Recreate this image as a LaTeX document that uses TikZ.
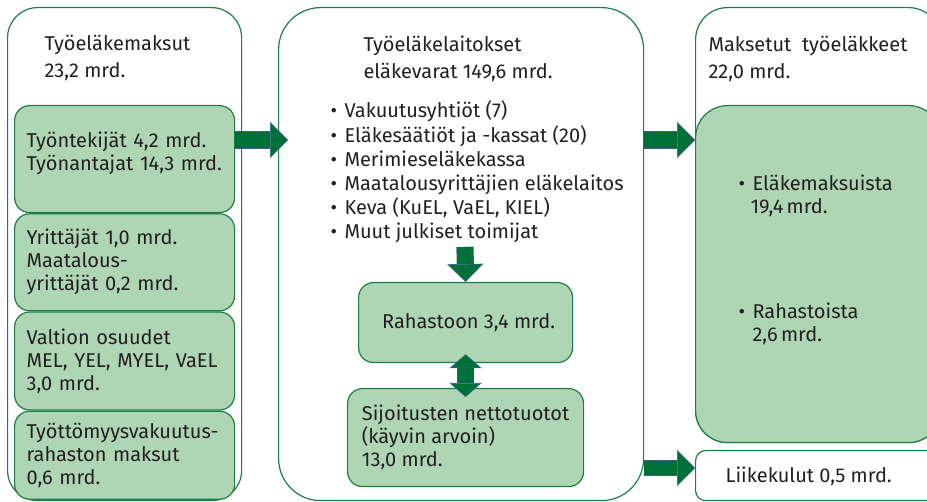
\documentclass[tikz,border=0pt]{standalone}
\usepackage{fontspec}
\setmainfont{Fira Sans}
\usetikzlibrary{positioning, arrows.meta}
\definecolor{boxline}{RGB}{30,125,70}
\definecolor{boxfill}{RGB}{174,214,180}
\definecolor{arrowfill}{RGB}{0,112,58}
\definecolor{arrowedge}{RGB}{65,95,140}
\definecolor{txt}{RGB}{35,31,32}
\newcommand\blt{\makebox[14pt][l]{•}}

\begin{document}
\begin{tikzpicture}[x=1pt, y=-1pt, font=\fontsize{20}{23}\selectfont, text=txt,
	outerbox/.style={draw=boxline, line width=1.2pt, rounded corners=#1, anchor=north west, inner sep=0pt},
	greenbox/.style={outerbox=#1, fill=boxfill, align=left, inner xsep=12pt},
	blockarrow/.style={draw=arrowedge, line width=0.6pt, double=arrowfill, double distance=#1},
	tip/.style={-{Triangle[length=18pt, width=36pt, fill=arrowfill, color=arrowedge, line width=0.6pt]}}]
	\useasboundingbox (0,0) rectangle (927,502);
	\clip (0,0) rectangle (927,502);
	% outer boxes
	\node at (7,7) [outerbox=30pt, minimum width=234pt, minimum height=493pt] (maksut) {};
	\node at (278,7) [outerbox=42pt, minimum width=365pt, minimum height=493pt] (laitokset) {};
	\node at (695,7) [outerbox=32pt, minimum width=245pt, minimum height=435pt] (maksetut) {};
	\node at (41,58) [anchor=west, align=left] (maksut-t) {Työeläkemaksut\\[4pt]23,2 mrd.};
	\node at (360,59) [anchor=west, align=left] (laitokset-t) {Työeläkelaitokset\\[4pt]eläkevarat 149,6 mrd.};
	\node at (705,59) [anchor=west, align=left] (maksetut-t) {Maksetut\ \ työeläkkeet\\[4pt]22,0 mrd.};
	% contributions
	\node at (14,105) [greenbox=15pt, text width=196pt, minimum height=107pt] (tyo) {Työntekijät 4,2 mrd.\\Työnantajat 14,3 mrd.\\[-8pt]\mbox{}};
	\node [greenbox=15pt, below=0pt of tyo, text width=196pt, minimum height=97pt] (yrit) {Yrittäjät 1,0 mrd.\\Maatalous-\\yrittäjät 0,2 mrd.};
	\node [greenbox=15pt, below=0pt of yrit, text width=196pt, minimum height=98pt] (valtio) {Valtion osuudet\\MEL, YEL, MYEL, VaEL\\3,0 mrd.};
	\node [greenbox=15pt, below=0pt of valtio, text width=196pt, minimum height=88pt] (tvr) {Työttömyysvakuutus-\\rahaston maksut\\0,6 mrd.};
	% institutions
	\node at (327,172) [anchor=west, align=left, font=\fontsize{20}{24.2}\selectfont] (lista) {\blt Vakuutusyhtiöt (7)\\\blt Eläkesäätiöt ja -kassat (20)\\\blt Merimieseläkekassa\\\blt Maatalousyrittäjien eläkelaitos\\\blt Keva (KuEL, VaEL, KIEL)\\\blt Muut julkiset toimijat};
	\node at (358,282) [greenbox=15pt, minimum width=214pt, minimum height=80pt] (rahasto) {\hspace*{6pt}Rahastoon 3,4 mrd.};
	\node at (347,388) [greenbox=15pt, minimum width=236pt, minimum height=98pt] (sijoitus) {Sijoitusten nettotuotot\\(käyvin arvoin)\\13,0 mrd.};
	% pensions paid
	\node at (695,105) [greenbox=32pt, minimum width=245pt, minimum height=337pt] (elake) {};
	\node at (735,196) [anchor=west, align=left] (elake-a) {\blt Eläkemaksuista\\\hspace*{12pt}19,4\,mrd.};
	\node at (735,324) [anchor=west, align=left] (elake-b) {\blt Rahastoista\\\hspace*{14pt}2,6\,mrd.};
	\node at (695,450) [outerbox=10pt, minimum width=245pt, minimum height=50pt] (kulut) {};
	\node at (722,476) [anchor=west] (kulut-t) {Liikekulut 0,5 mrd.};
	% arrows
	\coordinate (virta) at (0,140);
	\coordinate (kulu) at (0,468);
	\coordinate (listend) at (465,247);
	\draw[blockarrow=16pt, tip, shorten >=-10pt] (tyo.east |- virta) -- (laitokset.west |- virta);
	\draw[blockarrow=16pt, tip] (laitokset.east |- virta) -- (maksetut.west |- virta);
	\draw[blockarrow=14pt, tip] (laitokset.east |- kulu) -- (kulut.west |- kulu);
	\draw[blockarrow=16pt, tip] (listend) -- (rahasto.north);
	\draw[blockarrow=16pt, {Triangle[length=14pt, width=32pt, fill=arrowfill, color=arrowedge, line width=0.6pt]}-{Triangle[length=14pt, width=32pt, fill=arrowfill, color=arrowedge, line width=0.6pt]}, shorten <=-9pt, shorten >=-9pt] (rahasto.south) -- (sijoitus.north);
\end{tikzpicture}
\end{document}
